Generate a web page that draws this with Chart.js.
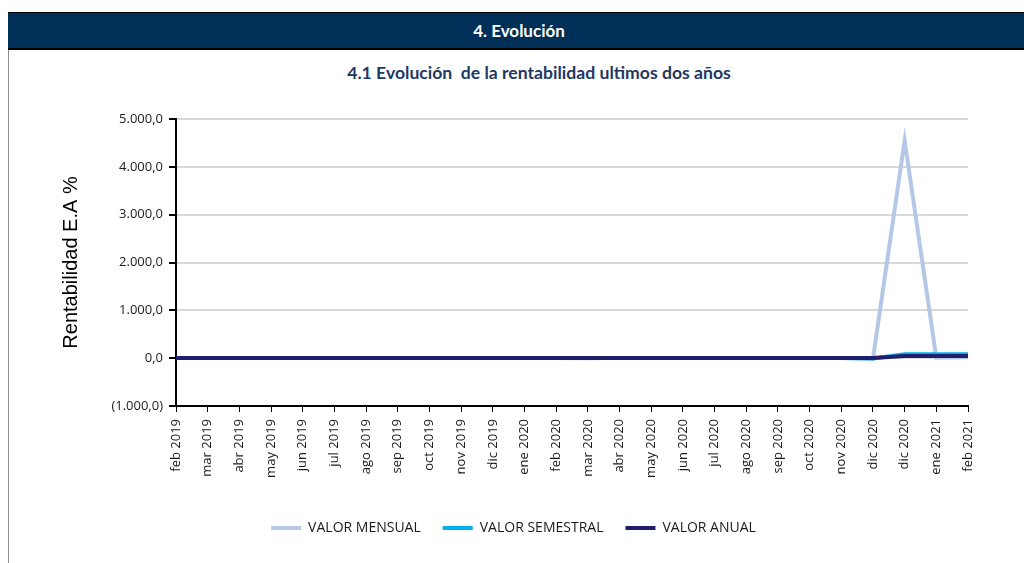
<!DOCTYPE html>
<html>
<head>
<meta charset="utf-8">
<script src="https://cdn.jsdelivr.net/npm/chart.js@4.4.1/dist/chart.umd.min.js"></script>
<style>
  body { margin: 0; background: #fff; width: 1024px; height: 563px; overflow: hidden; position: relative; }
  #header {
    position: absolute; left: 8px; top: 12px; width: 1016px; height: 35px;
    background: #003057; border-top: 1px solid #000; border-bottom: 2px solid #000;
    color: #fff; font: bold 17px Lato, "Open Sans", sans-serif;
    text-align: center; line-height: 35px;
  }
  #header span { position: relative; left: 3px; }
  #leftline { position: absolute; left: 8px; top: 50px; width: 1px; height: 513px; background: #8c8c8c; }
  #title {
    position: absolute; left: 8px; width: 1016px; top: 62px; text-align: center;
    color: #1f3864; font: bold 17.6px Lato, "Open Sans", sans-serif;
  }
  #title span { position: relative; left: 23px; }
  #wrap { position: absolute; left: 9px; top: 90px; width: 1010px; height: 473px; }
</style>
</head>
<body>
<div id="header"><span>4. Evolución</span></div>
<div id="leftline"></div>
<div id="title"><span>4.1 Evolución&nbsp; de la rentabilidad ultimos dos años</span></div>
<div id="wrap"><canvas id="myChart"></canvas></div>
<script>
  const labels = [
    'feb 2019', 'mar 2019', 'abr 2019', 'may 2019', 'jun 2019', 'jul 2019',
    'ago 2019', 'sep 2019', 'oct 2019', 'nov 2019', 'dic 2019', 'ene 2020',
    'feb 2020', 'mar 2020', 'abr 2020', 'may 2020', 'jun 2020', 'jul 2020',
    'ago 2020', 'sep 2020', 'oct 2020', 'nov 2020', 'dic 2020', 'dic 2020',
    'ene 2021', 'feb 2021'
  ];

  const valorMensual = [
    3.1, 4.2, 5.0, 4.6, 5.3, 4.8, 3.9, 4.4, 5.1, 4.7, 5.5, 4.9,
    3.8, -2.5, 6.1, 5.8, 4.3, 4.0, 3.6, 3.2, 2.9, 2.5, -12.0, 4550.0,
    10.0, 20.0
  ];
  const valorSemestral = [
    4.0, 4.1, 4.3, 4.5, 4.6, 4.7, 4.6, 4.5, 4.6, 4.8, 4.9, 5.0,
    4.8, 3.9, 4.2, 4.5, 4.7, 4.4, 3.9, 3.6, 3.3, 3.0, -5.0, 80.0,
    80.0, 82.0
  ];
  const valorAnual = [
    4.5, 4.5, 4.6, 4.6, 4.7, 4.7, 4.6, 4.6, 4.6, 4.7, 4.7, 4.8,
    4.7, 4.4, 4.5, 4.6, 4.6, 4.5, 4.2, 4.0, 3.8, 3.5, 2.0, 45.0,
    45.0, 46.0
  ];

  const yTicks = [-1000, 0, 1000, 2000, 3000, 4000, 5000];

  function fmt(v) {
    const s = Math.abs(v).toFixed(1).split('.');
    const ent = s[0].replace(/\B(?=(\d{3})+(?!\d))/g, '.');
    const txt = ent + ',' + s[1];
    return v < 0 ? '(' + txt + ')' : txt;
  }

  const data = {
    labels: labels,
    datasets: [{
      label: 'VALOR MENSUAL',
      data: valorMensual,
      borderColor: '#b4c7e7',
      backgroundColor: '#b4c7e7',
      borderWidth: 4,
      pointRadius: 0,
      order: 3
    }, {
      label: 'VALOR SEMESTRAL',
      data: valorSemestral,
      borderColor: '#00b0f0',
      backgroundColor: '#00b0f0',
      borderWidth: 4,
      pointRadius: 0,
      order: 2
    }, {
      label: 'VALOR ANUAL',
      data: valorAnual,
      borderColor: '#1f1f6b',
      backgroundColor: '#1f1f6b',
      borderWidth: 4,
      pointRadius: 0,
      order: 1
    }]
  };

  const config = {
    type: 'line',
    data: data,
    options: {
      responsive: true,
      maintainAspectRatio: false,
      animation: false,
      layout: { padding: { left: 50, right: 51, top: 29, bottom: 18 } },
      plugins: {
        tooltip: { enabled: false },
        legend: {
          position: 'bottom',
          labels: {
            usePointStyle: true,
            pointStyle: 'line',
            pointStyleWidth: 30,
            boxHeight: 10,
            padding: 22,
            color: '#1a1a1a',
            font: { family: '"Open Sans", sans-serif', size: 14 },
            sort: (a, b) => a.datasetIndex - b.datasetIndex
          }
        }
      },
      scales: {
        x: {
          offset: false,
          border: { color: '#000', width: 2 },
          grid: { drawOnChartArea: false, drawTicks: true, tickLength: 6, tickColor: '#000' },
          ticks: {
            autoSkip: false,
            minRotation: 90,
            maxRotation: 90,
            padding: 7,
            color: '#1a1a1a',
            font: { family: '"Open Sans", sans-serif', size: 13 }
          },
          afterFit: (scale) => { scale.height = 93; }
        },
        y: {
          min: -1000,
          max: 5000,
          border: { color: '#000', width: 2 },
          grid: { color: '#d9d9d9', lineWidth: 2, tickLength: 7, tickColor: '#000' },
          afterBuildTicks: (scale) => { scale.ticks = yTicks.map(v => ({ value: v })); },
          ticks: {
            color: '#1a1a1a',
            padding: 6,
            font: { family: '"Open Sans", sans-serif', size: 13 },
            callback: (v) => fmt(v)
          },
          title: {
            display: true,
            text: 'Rentabilidad E.A %',
            color: '#000',
            font: { family: '"Liberation Sans", Arial, sans-serif', size: 20 },
            padding: { top: 0, bottom: 22 }
          },
          afterFit: (scale) => { scale.width = 117; }
        }
      }
    }
  };

  const myChart = new Chart(document.getElementById('myChart'), config);
</script>
</body>
</html>
